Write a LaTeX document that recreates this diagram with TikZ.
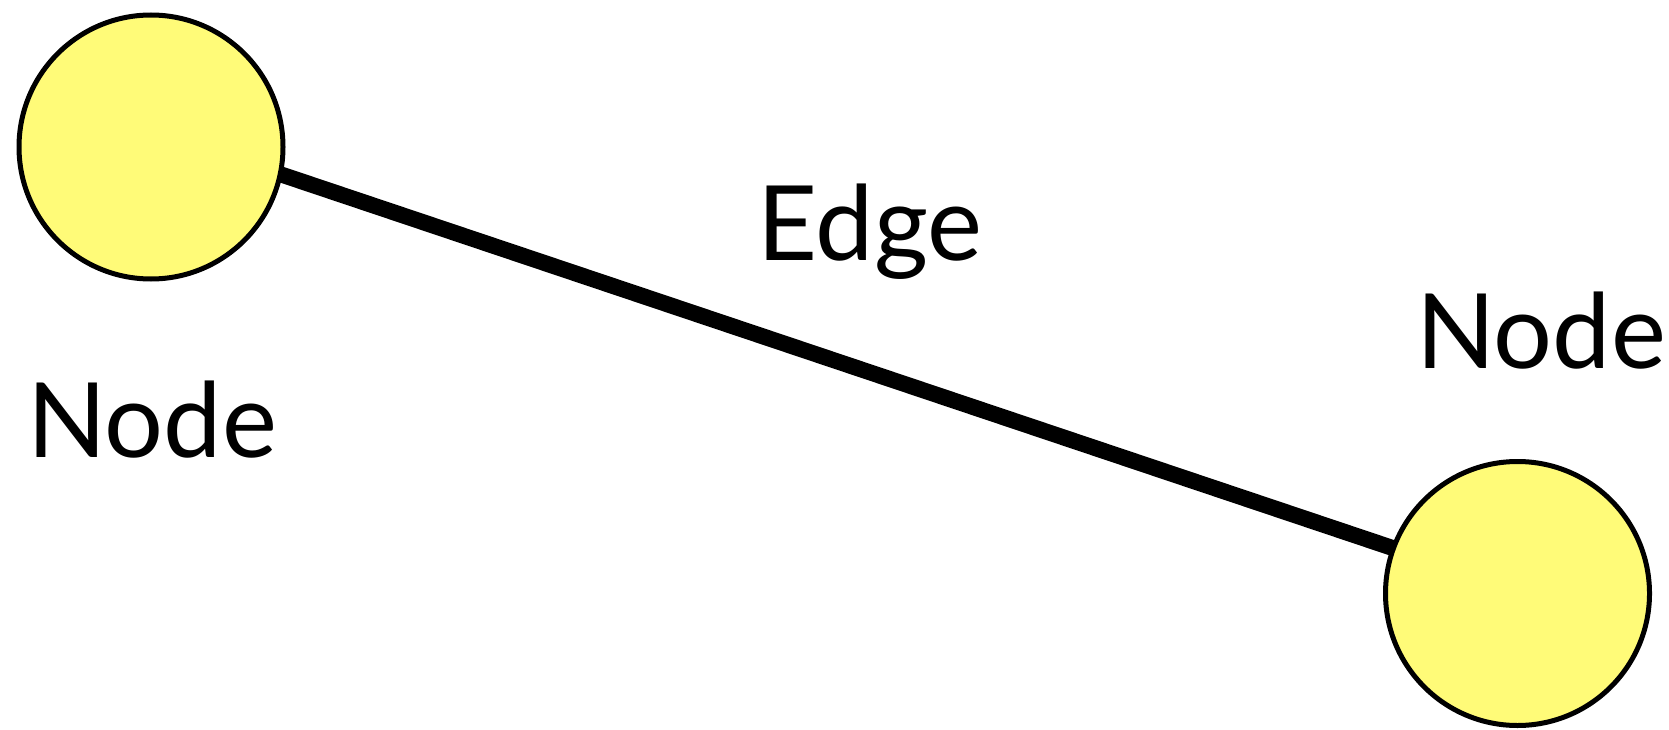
\documentclass[tikz,border=0pt]{standalone}
\usepackage{fontspec}
\setmainfont{Lato}
\usepackage{tikz}
\usetikzlibrary{backgrounds}
\definecolor{nodeyellow}{RGB}{255,251,120}
\tikzset{
  vert/.style ={draw,circle,line width=5pt,fill=nodeyellow,minimum size=264pt,inner sep=0pt},
  lbl/.style  ={anchor=base,inner sep=0pt,font=\fontsize{104}{120}\selectfont},
  link/.style ={draw,line width=16pt,shorten <=-8pt,shorten >=-8pt},
}
\begin{document}
\begin{tikzpicture}[x=1pt,y=-1pt]
  \useasboundingbox (0,0) rectangle (1669,730);
  \node [vert] (n1) at (151,147) {};
  \node [vert] (n2) at (1517.5,593.5) {};
  \node [lbl] (n1lbl) at (152,457) {Node};
  \node [lbl] (n2lbl) at (1541,368) {Node};
  \node [lbl] (elbl) at (870,260) {Edge};
  \begin{pgfonlayer}{background}
    \draw [link] (n1.-12) -- (n2.160);
  \end{pgfonlayer}
\end{tikzpicture}
\end{document}
